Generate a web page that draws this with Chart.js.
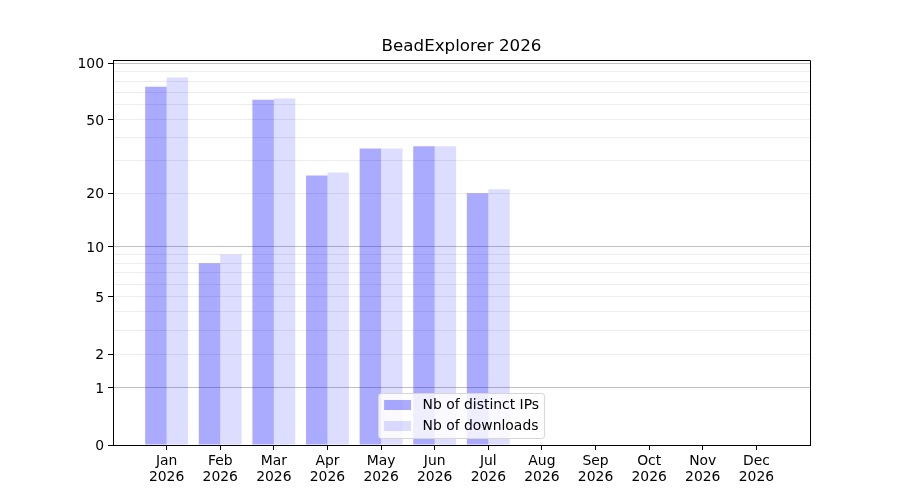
<!DOCTYPE html>
<html><head><meta charset="utf-8">
<script src="https://cdn.jsdelivr.net/npm/chart.js@4/dist/chart.umd.min.js"></script>
<style>html,body{margin:0;padding:0;background:#fff}</style>
</head><body>
<canvas id="c" width="900" height="500" style="width:900px;height:500px;display:block"></canvas>
<script>
const months = ['Jan','Feb','Mar','Apr','May','Jun','Jul','Aug','Sep','Oct','Nov','Dec'];
const year = '2026';
const chartTitle = 'BeadExplorer 2026';
const seriesNames = ['Nb of distinct IPs', 'Nb of downloads'];
const distinctIPs = [75, 8, 64, 25, 35, 36, 20];
const downloads = [84, 9, 65, 26, 35, 36, 21];
const yTickLabels = [0, 1, 2, 5, 10, 20, 50, 100];
const yMajorGrid = [1, 10, 100];
const yMinorGrid = [2, 3, 4, 5, 6, 7, 8, 9, 20, 30, 40, 50, 60, 70, 80, 90];
const yMaxValue = 104;
const seriesColors = ['rgba(0,0,255,0.333)', 'rgba(0,0,255,0.133)'];

const FONT = 'DejaVu Sans';
const tf = v => Math.log10(1 + v);

const yTickValues = Array.from(new Set([0, ...yMajorGrid, ...yMinorGrid, ...yTickLabels])).sort((a,b)=>a-b);

const framePlugin = {
  id: 'frame',
  afterDraw(chart) {
    const {ctx, chartArea: a} = chart;
    ctx.save();
    ctx.strokeStyle = '#000';
    ctx.lineWidth = 1;
    ctx.beginPath();
    ctx.moveTo(Math.round(a.left) + 0.5, Math.round(a.top) + 0.5);
    ctx.lineTo(Math.round(a.right) + 0.5, Math.round(a.top) + 0.5);
    ctx.lineTo(Math.round(a.right) + 0.5, Math.round(a.bottom) + 0.5);
    ctx.stroke();

    // legend (lower center, inside axes)
    const fs = 13.9;
    ctx.font = fs + 'px "' + FONT + '"';
    const labels = chart.data.datasets.map(d => d.label);
    const tw = Math.max(...labels.map(l => ctx.measureText(l).width));
    const pad = 5.6, handle = 27, gap = 11.5;
    const w = pad + handle + gap + tw + pad;
    const h = 45;
    const cx = (a.left + a.right) / 2;
    const x0 = Math.round(cx - w / 2) + 0.5;
    const y0 = Math.round(a.bottom - 7 - h) + 0.5;
    const r = 3;
    ctx.beginPath();
    ctx.moveTo(x0 + r, y0);
    ctx.lineTo(x0 + w - r, y0);
    ctx.arcTo(x0 + w, y0, x0 + w, y0 + r, r);
    ctx.lineTo(x0 + w, y0 + h - r);
    ctx.arcTo(x0 + w, y0 + h, x0 + w - r, y0 + h, r);
    ctx.lineTo(x0 + r, y0 + h);
    ctx.arcTo(x0, y0 + h, x0, y0 + h - r, r);
    ctx.lineTo(x0, y0 + r);
    ctx.arcTo(x0, y0, x0 + r, y0, r);
    ctx.closePath();
    ctx.fillStyle = 'rgba(255,255,255,0.8)';
    ctx.fill();
    ctx.strokeStyle = '#d6d6d6';
    ctx.stroke();
    ctx.textBaseline = 'middle';
    ctx.textAlign = 'left';
    chart.data.datasets.forEach((d, i) => {
      const cy = y0 + 11.5 + i * 21;
      ctx.fillStyle = d.backgroundColor;
      ctx.fillRect(x0 + pad, cy - 5, handle, 10);
      ctx.fillStyle = '#000';
      ctx.fillText(d.label, x0 + pad + handle + gap, cy + 0.5);
    });
    ctx.restore();
  }
};

new Chart(document.getElementById('c'), {
  type: 'bar',
  data: {
    datasets: [
      { label: seriesNames[0], data: distinctIPs.map((v, i) => ({x: i, y: tf(v)})), backgroundColor: seriesColors[0], borderWidth: 0, barPercentage: 1, categoryPercentage: 0.8 },
      { label: seriesNames[1], data: downloads.map((v, i) => ({x: i, y: tf(v)})), backgroundColor: seriesColors[1], borderWidth: 0, barPercentage: 1, categoryPercentage: 0.8 }
    ]
  },
  options: {
    responsive: false,
    animation: false,
    devicePixelRatio: 1,
    layout: { padding: { left: 0, right: 90, top: 0, bottom: 0 } },
    plugins: {
      legend: { display: false },
      tooltip: { enabled: false },
      title: { display: true, fullSize: false, text: chartTitle, color: '#000', font: { family: FONT, size: 16.7, weight: 'normal' }, padding: { top: 37, bottom: 3 } }
    },
    scales: {
      x: {
        type: 'linear', min: -1, max: 12, offset: false,
        afterBuildTicks(scale) { scale.ticks = months.map((m, i) => ({ value: i })); },
        afterFit(scale) { scale.height = 55; },
        ticks: {
          autoSkip: false, maxRotation: 0, minRotation: 0, padding: 3.5, color: '#000',
          font: { family: FONT, size: 13.9, lineHeight: 1.15 },
          callback: (v, i) => [months[i], year]
        },
        grid: { drawOnChartArea: false, offset: false, drawTicks: true, tickLength: 5, tickColor: '#000', tickWidth: 1 },
        border: { color: '#000', width: 1 }
      },
      y: {
        type: 'linear', min: 0, max: tf(yMaxValue),
        afterBuildTicks(scale) { scale.ticks = yTickValues.map(v => ({ value: tf(v), raw: v })); },
        afterFit(scale) { scale.width = 113; },
        ticks: {
          autoSkip: false, padding: 4, color: '#000', labelOffset: 1.5,
          font: { family: FONT, size: 13.9 },
          callback: (value, index, ticks) => { const r = ticks[index].raw; return yTickLabels.includes(r) ? String(r) : ''; }
        },
        grid: {
          drawTicks: true, tickLength: 5, lineWidth: 1, tickWidth: 1,
          color: ctx => { const r = ctx.tick ? ctx.tick.raw : null; if (r === 0) return 'rgba(0,0,0,0)'; return yMajorGrid.includes(r) ? '#c0c0c0' : '#ececec'; },
          tickColor: ctx => { const r = ctx.tick ? ctx.tick.raw : null; return yTickLabels.includes(r) ? '#000' : 'rgba(0,0,0,0)'; }
        },
        border: { color: '#000', width: 1 }
      }
    }
  },
  plugins: [framePlugin]
});
</script>
</body></html>
